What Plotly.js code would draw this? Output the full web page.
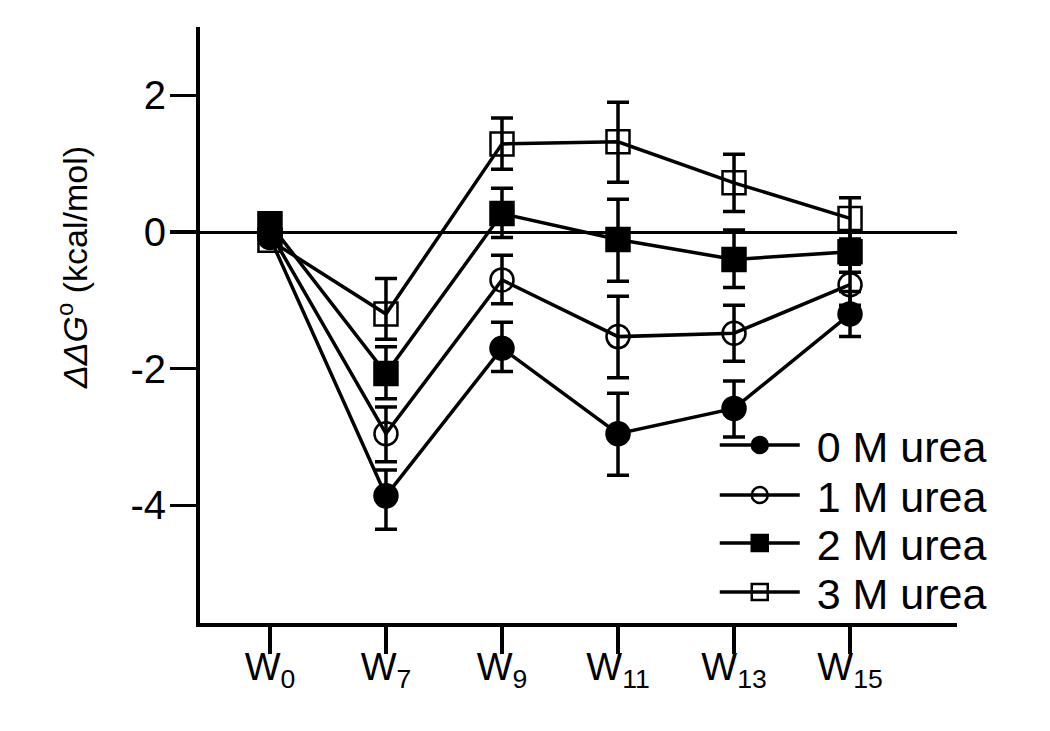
<!DOCTYPE html>
<html>
<head>
<meta charset="utf-8">
<script src="https://cdn.plot.ly/plotly-3.0.1.min.js"></script>
<style>html,body{margin:0;padding:0;background:#fff;}#chart{width:1050px;height:731px;}</style>
</head>
<body>
<div id="chart"></div>
<script>
var categories = ["W<sub>0</sub>", "W<sub>7</sub>", "W<sub>9</sub>", "W<sub>11</sub>", "W<sub>13</sub>", "W<sub>15</sub>"];

var urea0 = [-0.08, -3.86, -1.70, -2.95, -2.58, -1.20];
var urea0Plus = [0, 0.38, 0.38, 0.59, 0.40, 0.33];
var urea0Minus = [0, 0.49, 0.34, 0.61, 0.42, 0.33];

var urea1 = [0.0, -2.95, -0.70, -1.53, -1.48, -0.77];
var urea1Plus = [0, 0.39, 0.36, 0.59, 0.41, 0.30];
var urea1Minus = [0, 0.41, 0.35, 0.60, 0.41, 0.30];

var urea2 = [0.12, -2.07, 0.27, -0.11, -0.40, -0.29];
var urea2Plus = [0, 0.39, 0.37, 0.59, 0.43, 0.30];
var urea2Minus = [0, 0.37, 0.35, 0.61, 0.41, 0.30];

var urea3 = [-0.12, -1.20, 1.29, 1.32, 0.72, 0.20];
var urea3Plus = [0, 0.52, 0.38, 0.58, 0.42, 0.30];
var urea3Minus = [0, 0.37, 0.37, 0.59, 0.42, 0.30];

var seriesNames = ["0 M urea", "1 M urea", "2 M urea", "3 M urea"];
var yTickVals = [-4, -2, 0, 2];
var yTickText = ["-4", "-2", "0", "2"];
var yTitle = "<i>ΔΔG</i><sup>o</sup> (kcal/mol)";

var legendNames = ["legend", "legend2", "legend3", "legend4"];

function mk(i, y, plus, minus, symbol) {
  return {
    type: "scatter", mode: "lines+markers", name: "\u00a0" + seriesNames[i],
    legend: legendNames[i],
    x: categories, y: y,
    line: {color: "#000", width: 3.5},
    marker: {symbol: symbol, size: 23, color: "#000", line: {color: "#000", width: 2.5}},
    error_y: {type: "data", symmetric: false, array: plus, arrayminus: minus,
              color: "#000", thickness: 3.5, width: 11},
    cliponaxis: false
  };
}

var data = [
  mk(0, urea0, urea0Plus, urea0Minus, "circle"),
  mk(1, urea1, urea1Plus, urea1Minus, "circle-open"),
  mk(2, urea2, urea2Plus, urea2Minus, "square"),
  mk(3, urea3, urea3Plus, urea3Minus, "square-open")
];

var legendCentersPx = [445, 495, 543, 592];
function legendAt(yc) {
  return {x: 0.68, y: (623 - yc) / 596, xanchor: "left", yanchor: "middle",
          bgcolor: "rgba(0,0,0,0)", font: {size: 43}, itemwidth: 80};
}

var layout = {
  width: 1050, height: 731,
  margin: {l: 200, r: 93, t: 27, b: 108},
  paper_bgcolor: "#fff", plot_bgcolor: "#fff",
  font: {family: "Liberation Sans, Arial, sans-serif", color: "#000", size: 38},
  showlegend: true,
  legend: legendAt(legendCentersPx[0]),
  legend2: legendAt(legendCentersPx[1]),
  legend3: legendAt(legendCentersPx[2]),
  legend4: legendAt(legendCentersPx[3]),
  xaxis: {
    type: "category", range: [-0.603, 5.922],
    showline: true, linecolor: "#000", linewidth: 4,
    ticks: "outside", ticklen: 27, tickwidth: 3.5, tickcolor: "#000",
    showgrid: false, zeroline: false,
    tickfont: {size: 38}, ticklabelstandoff: -20
  },
  yaxis: {
    range: [-5.72, 3.0],
    tickvals: yTickVals, ticktext: yTickText,
    showline: true, linecolor: "#000", linewidth: 4,
    ticks: "outside", ticklen: 26, tickwidth: 3.5, tickcolor: "#000",
    showgrid: false, zeroline: true, zerolinecolor: "#000", zerolinewidth: 3,
    tickfont: {size: 40}, ticklabelstandoff: -4
  },
  annotations: [{
    text: yTitle, xref: "paper", yref: "paper",
    x: (72 - 200) / 757, y: (623 - 268) / 596,
    xanchor: "center", yanchor: "middle", textangle: -90,
    showarrow: false, font: {size: 34}
  }]
};

Plotly.newPlot("chart", data, layout, {displayModeBar: false, staticPlot: true});
</script>
</body>
</html>
